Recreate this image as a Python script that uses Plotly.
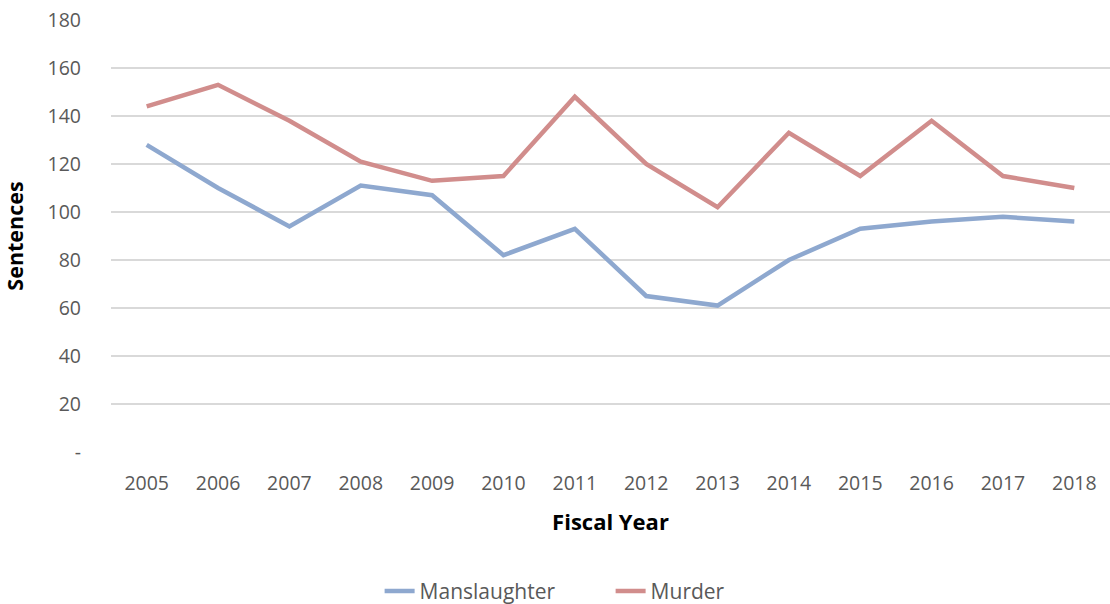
import plotly.graph_objects as go

years = ["2005", "2006", "2007", "2008", "2009", "2010", "2011", "2012", "2013", "2014", "2015", "2016", "2017", "2018"]
manslaughter = [128, 110, 94, 111, 107, 82, 93, 65, 61, 80, 93, 96, 98, 96]
murder = [144, 153, 138, 121, 113, 115, 148, 120, 102, 133, 115, 138, 115, 110]
y_tickvals = [0, 20, 40, 60, 80, 100, 120, 140, 160, 180]
y_ticktext = ["-", "20", "40", "60", "80", "100", "120", "140", "160", "180"]

font_family = "Open Sans, Liberation Sans, sans-serif"
gray = "#595959"

fig = go.Figure()
fig.add_trace(go.Scatter(x=years, y=manslaughter, mode="lines", name="Manslaughter",
                         line=dict(color="#8EA8CF", width=4.5)))
fig.add_trace(go.Scatter(x=years, y=murder, mode="lines", name="Murder",
                         line=dict(color="#D18D8C", width=4.5)))

fig.update_layout(
    width=1110, height=604,
    margin=dict(l=111, r=0, t=20, b=152, autoexpand=False),
    paper_bgcolor="white", plot_bgcolor="white",
    font=dict(family=font_family, size=19.5, color=gray),
    showlegend=True,
    legend=dict(orientation="h", xref="container", x=0.342, xanchor="left",
                yref="container", y=0.021, yanchor="middle",
                font=dict(size=21, color=gray), entrywidth=186, entrywidthmode="pixels"),
    xaxis=dict(type="category", range=[-0.5, 13.5], showgrid=False, zeroline=False,
               showline=False, ticks="", tickfont=dict(size=19.5, color=gray),
               ticklabelstandoff=17, automargin=False,
               title=dict(text="<b>Fiscal Year</b>", font=dict(size=22, color="black"), standoff=20)),
    yaxis=dict(range=[0, 180], tickvals=y_tickvals, ticktext=y_ticktext,
               showgrid=True, gridcolor="#D9D9D9", gridwidth=1.5, zeroline=False,
               showline=False, ticks="", tickfont=dict(size=19.5, color=gray),
               ticklabelstandoff=29, automargin=False,
               title=dict(text="<b>Sentences</b>", font=dict(size=21.5, color="black"), standoff=19)),
)

fig.write_html("out.html", config={"displayModeBar": False},
               post_script="document.body.style.margin='0';document.body.style.padding='0';")
